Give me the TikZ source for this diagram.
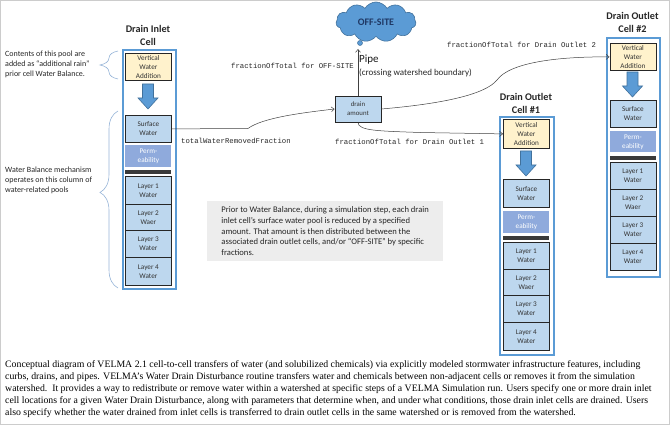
\documentclass[tikz,border=0pt]{standalone}
\usepackage{fontspec}
\setmainfont{Carlito}
\newfontfamily\monof{Liberation Mono}
\newfontfamily\capf{Liberation Serif}
\usetikzlibrary{shapes.symbols,decorations.pathreplacing,arrows.meta}
\definecolor{poolblue}{HTML}{BDD7EE}
\definecolor{vwayellow}{HTML}{FFF2CC}
\definecolor{permblue}{HTML}{8FAADC}
\definecolor{bardark}{HTML}{3A3A3A}
\definecolor{edgedark}{HTML}{262626}
\definecolor{frameblue}{HTML}{5B9BD5}
\definecolor{arrowblue}{HTML}{5B9BD5}
\definecolor{arrowedge}{HTML}{41719C}
\definecolor{cloudblue}{HTML}{5B9BD5}
\definecolor{cloudedge}{HTML}{41719C}
\definecolor{navytext}{HTML}{1F3864}
\definecolor{bracecol}{HTML}{95B3D7}
\definecolor{notegray}{HTML}{EDEDED}
\begin{document}
\begin{tikzpicture}[x=1pt,y=-1pt,
  pool/.style={draw=edgedark, fill=poolblue, line width=0.8pt, minimum width=46pt, inner sep=0pt, align=center, anchor=north west, font=\fontsize{7.2}{9}\selectfont, text=black!80},
  vwa/.style={pool, fill=vwayellow},
  permbox/.style={pool, draw=none, fill=permblue, text=white},
  sepbar/.style={pool, draw=none, fill=bardark, minimum height=4pt},
  colframe/.style={draw=frameblue, line width=1.6pt, fill=white, inner sep=0pt, anchor=north west},
  coltitle/.style={font=\fontsize{10.2}{13}\selectfont\bfseries, align=center, text=black!85, inner sep=0pt},
  conn/.style={draw=black!75, line width=0.5pt, -{Straight Barb[length=3pt,width=5pt]}},
  monolbl/.style={font=\monof\fontsize{7.3}{9}\selectfont, anchor=west, inner sep=0pt, text=black!85},
  annot/.style={font=\fontsize{8}{10}\selectfont, align=left, anchor=west, inner sep=0pt, text=black!85},
  curly/.style={draw=bracecol, line width=0.6pt, decorate, decoration={brace, amplitude=18pt}},
  downarr/.pic={\path[fill=arrowblue, draw=arrowedge, line width=0.6pt] (-5.5,0) -- (5.5,0) -- (5.5,14) -- (10,14) -- (0,25) -- (-10,14) -- (-5.5,14) -- cycle;}
]
\useasboundingbox (0,0) rectangle (670,425);
\draw[draw=black!20, line width=0.8pt] (0.5,0.5) rectangle (669.5,424.5);

% ---------- Drain inlet cell ----------
\node[coltitle] (t1) at (148,35.5) {Drain Inlet\\Cell};
\node[colframe, minimum width=53pt, minimum height=239pt] (col1) at (122,49) {};
\node[vwa, minimum height=27pt] (v1) at (125,53) {Vertical\\Water\\Addition};
\pic at (148,84) {downarr};
\node[pool, minimum height=27pt] (s1) at (125,115) {Surface\\Water};
\node[permbox, minimum height=22pt] (p1) at (125,145) {Perm-\\eability};
\node[sepbar] (k1) at (125,170) {};
\node[pool, minimum height=28pt] (i1) at (125,176) {Layer 1\\Water};
\node[pool, minimum height=26pt] (i2) at (125,204) {Layer 2\\Waer};
\node[pool, minimum height=27pt] (i3) at (125,230) {Layer 3\\Water};
\node[pool, minimum height=28pt] (i4) at (125,257) {Layer 4\\Water};

% ---------- Drain outlet cell #1 ----------
\node[coltitle] (t2) at (526,103.5) {Drain Outlet\\Cell \#1};
\node[colframe, minimum width=54pt, minimum height=238pt] (col2) at (499,116) {};
\node[vwa, minimum height=29pt] (v2) at (503,119) {Vertical\\Water\\Addition};
\pic at (526,151) {downarr};
\node[pool, minimum height=28pt] (s2) at (503,179) {Surface\\Water};
\node[permbox, minimum height=22pt] (p2) at (503,211) {Perm-\\eability};
\node[sepbar] (k2) at (503,236) {};
\node[pool, minimum height=27pt] (a1) at (503,242) {Layer 1\\Water};
\node[pool, minimum height=26pt] (a2) at (503,269) {Layer 2\\Waer};
\node[pool, minimum height=27pt] (a3) at (503,295) {Layer 3\\Water};
\node[pool, minimum height=28pt] (a4) at (503,322) {Layer 4\\Water};

% ---------- Drain outlet cell #2 ----------
\node[coltitle] (t3) at (632.5,22.5) {Drain Outlet\\Cell \#2};
\node[colframe, minimum width=53pt, minimum height=239pt] (col3) at (606,37) {};
\node[vwa, minimum height=27pt] (v3) at (609.5,43) {Vertical\\Water\\Addition};
\pic at (632.5,72) {downarr};
\node[pool, minimum height=27pt] (s3) at (609.5,100) {Surface\\Water};
\node[permbox, minimum height=21pt] (p3) at (609.5,131) {Perm-\\eability};
\node[sepbar] (k3) at (609.5,156) {};
\node[pool, minimum height=27pt] (b1) at (609.5,162) {Layer 1\\Water};
\node[pool, minimum height=27pt] (b2) at (609.5,189) {Layer 2\\Waer};
\node[pool, minimum height=27pt] (b3) at (609.5,216) {Layer 3\\Water};
\node[pool, minimum height=27pt] (b4) at (609.5,243) {Layer 4\\Water};

% ---------- drain amount and off-site ----------
\node[pool, anchor=center, minimum height=26pt, font=\fontsize{6.8}{9}\selectfont] (drain) at (358,109) {drain\\amount};
\node[cloud, cloud puffs=11, cloud puff arc=120, aspect=2, draw=cloudedge, fill=cloudblue, line width=0.6pt, minimum width=80pt, minimum height=40pt, inner sep=0pt, font=\fontsize{10}{11}\selectfont\bfseries, text=navytext] (cloud) at (376,22) {OFF-SITE};
\node[circle, draw=cloudedge, fill=cloudblue, line width=0.5pt, minimum size=5pt, inner sep=0pt] (tail1) at (360,43) {};
\coordinate (pipeend) at (358,49);

% ---------- connectors ----------
\draw[conn] (drain.north) -- (pipeend);
\draw[conn] (s1.east) -- (248,128.5) .. controls (262,118) and (300,113) .. (drain.west);
\draw[conn] (drain.east) .. controls (440,104) and (485,95) .. (497,80) .. controls (510,62) and (560,56.5) .. (v3.west);
\draw[conn] (drain.south) .. controls (358,131) and (380,131) .. (420,132.5) -- (v2.west);

% ---------- labels ----------
\node[monolbl] (lOff) at (231,66) {fractionOfTotal for OFF-SITE};
\node[font=\fontsize{11}{12}\selectfont, anchor=west, inner sep=0pt, text=black!90] (lPipe) at (359,60) {Pipe};
\node[font=\fontsize{9}{10}\selectfont, anchor=west, inner sep=0pt, text=black!85] (lCross) at (359,73) {(crossing watershed boundary)};
\node[monolbl] (lTot) at (181,141) {totalWaterRemovedFraction};
\node[monolbl] (lO1) at (335,142) {fractionOfTotal for Drain Outlet 1};
\node[monolbl] (lO2) at (447,45) {fractionOfTotal for Drain Outlet 2};

% ---------- annotations ----------
\node[annot] (n1) at (5,64) {Contents of this pool are\\added as “additional rain”\\prior cell Water Balance.};
\node[annot] (n2) at (5,180) {Water Balance mechanism\\operates on this column of\\water-related pools};
\draw[curly] (118,79) -- (118,51);
\draw[curly, decoration={brace, amplitude=18pt, aspect=0.54}] (118,288) -- (118,111);

\node[fill=notegray, anchor=north west, inner xsep=6pt, minimum width=236pt, minimum height=60pt, align=left, font=\fontsize{8.6}{10.8}\selectfont, text=black!85] (note) at (207,201) {Prior to Water Balance, during a simulation step, each drain\\inlet cell’s surface water pool is reduced by a specified\\amount. That amount is then distributed between the\\associated drain outlet cells, and/or “OFF-SITE” by specific\\fractions.};

% ---------- caption ----------
\node[anchor=north west, inner sep=0pt, align=left, font=\capf\fontsize{9.8}{12}\selectfont, text=black] (cap) at (5,360.5) {Conceptual diagram of VELMA 2.1 cell-to-cell transfers of water (and solubilized chemicals) via explicitly modeled stormwater infrastructure features, including\\curbs, drains, and pipes. VELMA’s Water Drain Disturbance routine transfers water and chemicals between non-adjacent cells or removes it from the simulation\\watershed.\ \ It provides a way to redistribute or remove water within a watershed at specific steps of a VELMA Simulation run. Users specify one or more drain inlet\\cell locations for a given Water Drain Disturbance, along with parameters that determine when, and under what conditions, those drain inlet cells are drained. Users\\also specify whether the water drained from inlet cells is transferred to drain outlet cells in the same watershed or is removed from the watershed.};
\end{tikzpicture}
\end{document}
